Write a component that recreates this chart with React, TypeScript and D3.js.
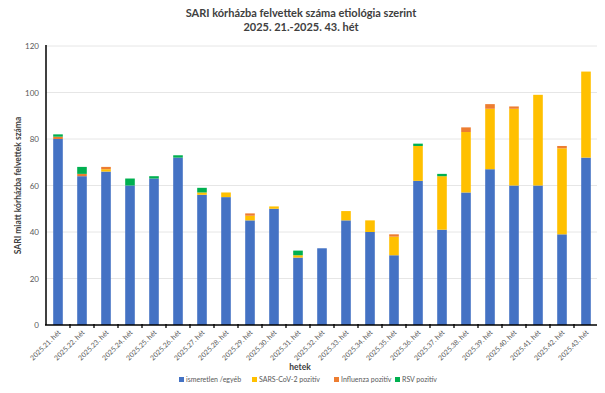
import React, { useEffect, useRef } from 'react'
import * as d3 from 'd3'

const weeks = ['21', '22', '23', '24', '25', '26', '27', '28', '29', '30', '31', '32', '33', '34', '35', '36', '37', '38', '39', '40', '41', '42', '43']
const unknown = [80, 64, 66, 60, 63, 72, 56, 55, 45, 50, 29, 33, 45, 40, 30, 62, 41, 57, 67, 60, 60, 39, 72]
const sarsCov2 = [0, 0, 1, 0, 0, 0, 1, 2, 2, 1, 1, 0, 4, 5, 8, 15, 23, 26, 26, 33, 39, 37, 37]
const influenza = [1, 1, 1, 0, 0, 0, 0, 0, 1, 0, 0, 0, 0, 0, 1, 0, 0, 2, 2, 1, 0, 1, 0]
const rsv = [1, 3, 0, 3, 1, 1, 2, 0, 0, 0, 2, 0, 0, 0, 0, 1, 1, 0, 0, 0, 0, 0, 0]
const yTicks = [0, 20, 40, 60, 80, 100, 120]

const seriesNames = ['ismeretlen /egyéb', 'SARS-CoV-2 pozitív', 'Influenza pozitív', 'RSV pozitív']
const seriesColors = ['#4472c4', '#ffc000', '#ed7d31', '#00b050']

export default function App() {
    const ref = useRef<SVGSVGElement | null>(null)

    const width = 605
    const height = 393
    const margin = { top: 46, right: 7, bottom: 68, left: 46 }
    const font = 'Lato, "Open Sans", sans-serif'

    function drawChart() {
        const svg = d3.select(ref.current)
        svg.selectAll('*').remove()
        svg.style('display', 'block')

        const rows = weeks.map((w, i) => ({
            week: w,
            s0: unknown[i], s1: sarsCov2[i], s2: influenza[i], s3: rsv[i]
        }))

        const x = d3.scaleBand<string>()
            .domain(weeks)
            .range([margin.left, width - margin.right])
            .paddingInner(0.6)
            .paddingOuter(0.3)

        const y = d3.scaleLinear()
            .domain([0, 120])
            .range([height - margin.bottom, margin.top])

        // title
        const title = svg.append('g')
            .attr('font-family', font)
            .attr('font-weight', 'bold')
            .attr('font-size', 11)
            .attr('fill', '#404040')
            .attr('text-anchor', 'middle')
        title.append('text').attr('x', 301).attr('y', 17).text('SARI kórházba felvettek száma etiológia szerint')
        title.append('text').attr('x', 301).attr('y', 31).text('2025. 21.-2025. 43. hét')

        // grid
        svg.append('g')
            .selectAll('line')
            .data(yTicks.filter(t => t > 0))
            .enter().append('line')
            .attr('x1', margin.left)
            .attr('x2', width - margin.right)
            .attr('y1', d => y(d))
            .attr('y2', d => y(d))
            .attr('stroke', '#e6e6e6')
            .attr('stroke-width', 1)

        // y tick labels
        svg.append('g')
            .selectAll('text')
            .data(yTicks)
            .enter().append('text')
            .attr('x', margin.left - 7)
            .attr('y', d => y(d) + 3)
            .attr('text-anchor', 'end')
            .attr('font-family', font)
            .attr('font-size', 8)
            .attr('fill', '#595959')
            .text(d => d)

        svg.append('text')
            .attr('transform', `translate(21,${(margin.top + height - margin.bottom) / 2}) rotate(-90)`)
            .attr('text-anchor', 'middle')
            .attr('font-family', font)
            .attr('font-weight', 'bold')
            .attr('font-size', 8.5)
            .attr('fill', '#404040')
            .text('SARI miatt kórházba felvettek száma')

        // stacked bars
        const stack = d3.stack<any>().keys(['s0', 's1', 's2', 's3'])
        const layers = stack(rows)

        svg.append('g')
            .selectAll('g')
            .data(layers)
            .enter().append('g')
            .attr('fill', (d, i) => seriesColors[i])
            .selectAll('rect')
            .data(d => d)
            .enter().append('rect')
            .attr('x', (d: any) => x(d.data.week) as number)
            .attr('width', x.bandwidth())
            .attr('y', d => y(d[1]))
            .attr('height', d => y(d[0]) - y(d[1]))

        // axes lines
        const step = (width - margin.right - margin.left) / weeks.length
        const ticksX = d3.range(1, weeks.length + 1).map(i => margin.left + i * step)

        svg.append('line')
            .attr('x1', margin.left).attr('x2', margin.left)
            .attr('y1', margin.top - 1).attr('y2', y(0))
            .attr('stroke', '#000').attr('stroke-width', 1.5)
        svg.append('line')
            .attr('x1', margin.left - 1).attr('x2', width - margin.right)
            .attr('y1', y(0)).attr('y2', y(0))
            .attr('stroke', '#000').attr('stroke-width', 1.5)
        svg.append('g')
            .selectAll('line')
            .data(ticksX)
            .enter().append('line')
            .attr('x1', d => d).attr('x2', d => d)
            .attr('y1', y(0) - 1).attr('y2', y(0) + 3)
            .attr('stroke', '#000').attr('stroke-width', 1.3)

        // x labels
        svg.append('g')
            .selectAll('text')
            .data(weeks)
            .enter().append('text')
            .attr('transform', d => `translate(${(x(d) as number) + x.bandwidth() / 2 + 3},${y(0) + 8}) rotate(-45)`)
            .attr('text-anchor', 'end')
            .attr('font-family', font)
            .attr('font-size', 7)
            .attr('fill', '#595959')
            .text(d => `2025.${d}. hét`)

        svg.append('text')
            .attr('x', 300)
            .attr('y', 370)
            .attr('text-anchor', 'middle')
            .attr('font-family', font)
            .attr('font-weight', 'bold')
            .attr('font-size', 8.5)
            .attr('fill', '#404040')
            .text('hetek')

        // legend
        const legendX = [179, 252, 334, 395]
        const legend = svg.append('g')
            .selectAll('g')
            .data(seriesNames)
            .enter().append('g')
            .attr('transform', (d, i) => `translate(${legendX[i]},382)`)
        legend.append('rect')
            .attr('x', 0).attr('y', -5)
            .attr('width', 5).attr('height', 5)
            .attr('fill', (d, i) => seriesColors[i])
        legend.append('text')
            .attr('x', 7).attr('y', 0)
            .attr('font-family', font)
            .attr('font-size', 7)
            .attr('fill', '#595959')
            .text(d => d)
    }

    useEffect(() => {
        drawChart()
    }, [])

    return (
        <div style={{ margin: '-8px' }}>
            <svg ref={ref} width={width} height={height} />
        </div>
    )
}
